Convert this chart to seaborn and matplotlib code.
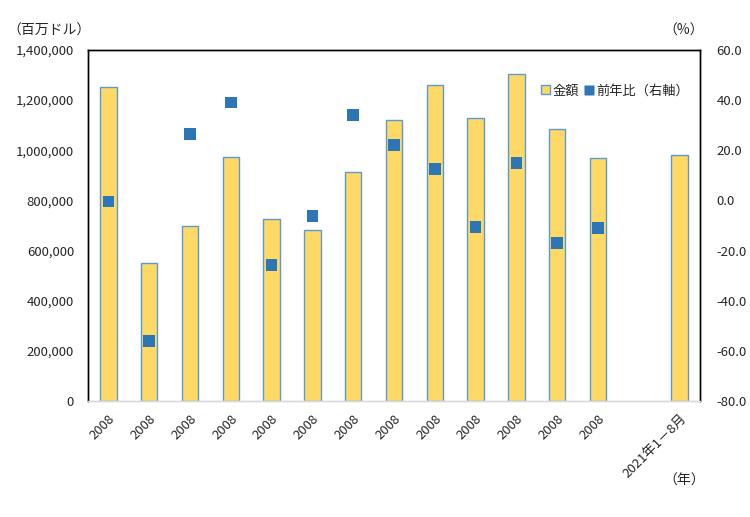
import numpy as np
import pandas as pd
import matplotlib.pyplot as plt
import seaborn as sns
from matplotlib.patches import Patch
from matplotlib.lines import Line2D

# --- data ---
x_labels = ["2008"] * 13 + ["", "2021年1－8月"]
amount = [1251000, 549000, 697000, 972000, 725000, 682000, 912000,
          1120000, 1259000, 1128000, 1303000, 1084000, 968000, None, 980000]
yoy = [-0.4, -56.2, 26.4, 39.1, -25.8, -6.3, 34.0,
       22.0, 12.4, -10.7, 14.8, -17.1, -11.1, None, None]

BAR_FILL = "#FFD966"
BAR_EDGE = "#5B9BD5"
MARK = "#2E75B6"

keys = [f"c{i}" for i in range(len(x_labels))]
df = pd.DataFrame({"key": keys, "amount": amount, "yoy": yoy, "pos": range(len(keys))})

sns.set_theme(style="white")
plt.rcParams["font.family"] = ["Noto Sans CJK JP", "DejaVu Sans"]

fig = plt.figure(figsize=(7.5, 5.17), dpi=100)
ax = fig.add_axes([0.1173, 0.2244, 0.816, 0.679])

sns.barplot(data=df.dropna(subset=["amount"]), x="key", y="amount", order=keys,
            color=BAR_FILL, edgecolor=BAR_EDGE, linewidth=1.0, width=0.4,
            saturation=1, ax=ax)
ax.set_xlim(-0.5, len(keys) - 0.5)
ax.set_ylim(0, 1400000)
ax.set_yticks(np.arange(0, 1400001, 200000))
ax.set_yticklabels([f"{int(v):,}" for v in np.arange(0, 1400001, 200000)], fontsize=9.5)
ax.set_xticks(range(len(keys)))
ax.set_xticklabels(x_labels, rotation=45, ha="right", rotation_mode="anchor", fontsize=9.5)
ax.set_xlabel("")
ax.set_ylabel("")
ax.tick_params(axis="both", length=0, colors="#262626")
ax.tick_params(axis="x", pad=8)
ax.tick_params(axis="y", pad=10)

ax2 = ax.twinx()
sns.scatterplot(data=df.dropna(subset=["yoy"]), x="pos", y="yoy", marker="s",
                s=70, color=MARK, edgecolor="none", ax=ax2, zorder=5)
ax2.set_ylim(-80, 60)
ax2.set_yticks(np.arange(-80, 61, 20))
ax2.set_yticklabels([f"{v:.1f}" for v in np.arange(-80, 61, 20)], fontsize=9.5)
ax2.set_ylabel("")
ax2.tick_params(axis="y", length=0, pad=12, colors="#262626")
ax2.set_xlim(-0.5, len(keys) - 0.5)

for a in (ax, ax2):
    for side in ("top", "left", "right"):
        a.spines[side].set_color("black")
        a.spines[side].set_linewidth(1.0)
    a.spines["bottom"].set_color("#D9D9D9")
    a.spines["bottom"].set_linewidth(1.0)

handles = [Patch(facecolor=BAR_FILL, edgecolor=BAR_EDGE, linewidth=1.0),
           Line2D([], [], marker="s", linestyle="none", markersize=7,
                  markerfacecolor=MARK, markeredgecolor="none")]
fig.legend(handles, ["金額", "前年比（右軸）"], loc="upper left",
           bbox_to_anchor=(0.705, 0.86), ncol=2, frameon=False, fontsize=9.5,
           handlelength=0.7, handleheight=0.7, handletextpad=0.2, columnspacing=0.4)

fig.text(0.010, 0.94, "（百万ドル）", fontsize=10, color="#262626", va="center")
fig.text(0.884, 0.94, "（%）", fontsize=10, color="#262626", va="center")
fig.text(0.884, 0.070, "（年）", fontsize=10, color="#262626", va="center")

fig.savefig("out.png", dpi=100)
